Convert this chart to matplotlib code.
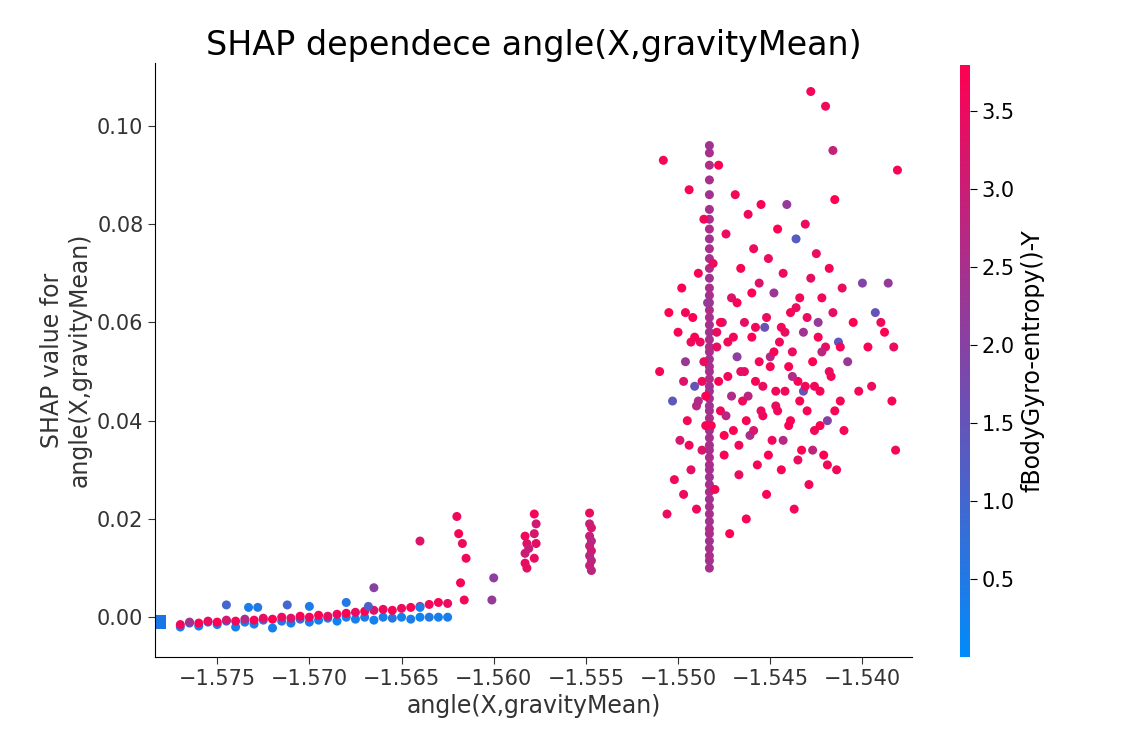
import matplotlib.pyplot as plt
from matplotlib.colors import LinearSegmentedColormap

# low band (-1.577 .. -1.5625), blue and red sub-bands
low_x = [-1.5770, -1.5765, -1.5760, -1.5755, -1.5750, -1.5745, -1.5740, -1.5735, -1.5730, -1.5725,
         -1.5720, -1.5715, -1.5710, -1.5705, -1.5700, -1.5695, -1.5690, -1.5685, -1.5680, -1.5675,
         -1.5670, -1.5665, -1.5660, -1.5655, -1.5650, -1.5645, -1.5640, -1.5635, -1.5630, -1.5625]
low_blue_y = [-0.0020, -0.0012, -0.0018, -0.0010, -0.0015, -0.0008, -0.0020, -0.0010, -0.0014, -0.0006,
              -0.0022, -0.0008, -0.0012, -0.0004, -0.0010, -0.0006, -0.0002, -0.0008, 0.0000, -0.0004,
              0.0000, -0.0006, 0.0000, -0.0002, 0.0000, -0.0004, 0.0000, 0.0000, 0.0000, 0.0000]
low_blue_c = [0.3, 0.4, 0.2, 0.5, 0.3, 0.6, 0.3, 0.4, 0.2, 0.8,
              0.3, 0.5, 0.3, 0.9, 0.4, 0.3, 0.5, 0.2, 0.4, 0.3,
              0.5, 0.3, 0.4, 0.6, 0.3, 0.4, 0.2, 0.5, 0.3, 0.4]
low_red_y = [-0.0015, -0.0010, -0.0012, -0.0008, -0.0010, -0.0006, -0.0008, -0.0004, -0.0006, -0.0002,
             -0.0004, 0.0000, -0.0002, 0.0002, 0.0000, 0.0004, 0.0002, 0.0006, 0.0008, 0.0010,
             0.0012, 0.0014, 0.0016, 0.0014, 0.0018, 0.0020, 0.0022, 0.0026, 0.0030, 0.0028]
low_red_c = [3.6, 2.4, 3.7, 3.5, 3.8, 3.2, 3.6, 2.6, 3.7, 3.4,
             3.8, 3.5, 3.3, 3.7, 3.6, 3.8, 3.4, 3.6, 3.7, 3.5,
             3.8, 3.3, 3.6, 3.7, 3.5, 3.8, 2.8, 3.6, 3.7, 3.5]

# scattered points
mid_x = [-1.5745, -1.5733, -1.5728, -1.5712, -1.5700, -1.5680, -1.5665, -1.5640, -1.5668, -1.5640,
         -1.5620, -1.5619, -1.5617, -1.5615, -1.5618, -1.5616, -1.5600, -1.5601,
         -1.5583, -1.5582, -1.5581, -1.5583, -1.5582, -1.5583, -1.5578, -1.5577, -1.5578, -1.5577, -1.5578,
         -1.5548, -1.5548, -1.5547, -1.5548, -1.5547, -1.5548, -1.5547, -1.5548, -1.5547, -1.5548, -1.5547]
mid_y = [0.0025, 0.0020, 0.0020, 0.0025, 0.0022, 0.0030, 0.0060, 0.0155, 0.0022, 0.0020,
         0.0205, 0.0170, 0.0150, 0.0120, 0.0070, 0.0035, 0.0080, 0.0035,
         0.0165, 0.0150, 0.0140, 0.0110, 0.0100, 0.0130, 0.0210, 0.0190, 0.0170, 0.0150, 0.0120,
         0.0212, 0.0190, 0.0182, 0.0165, 0.0155, 0.0145, 0.0135, 0.0125, 0.0115, 0.0105, 0.0095]
mid_c = [1.0, 0.4, 0.5, 1.0, 0.4, 0.5, 2.0, 3.3, 1.1, 0.4,
         3.6, 3.7, 3.5, 3.6, 3.7, 3.6, 2.1, 2.2,
         3.6, 3.3, 3.0, 3.5, 3.4, 3.0, 3.6, 3.1, 3.2, 3.4, 3.5,
         3.5, 2.9, 3.2, 3.0, 2.7, 2.9, 3.1, 2.8, 2.7, 3.0, 2.8]

# vertical column at -1.5483
col_y = [0.0100, 0.0115, 0.0125, 0.0140, 0.0155, 0.0170, 0.0180, 0.0195, 0.0210, 0.0225,
         0.0240, 0.0255, 0.0270, 0.0285, 0.0300, 0.0310, 0.0325, 0.0340, 0.0350, 0.0365,
         0.0380, 0.0390, 0.0405, 0.0420, 0.0430, 0.0445, 0.0460, 0.0470, 0.0485, 0.0500,
         0.0510, 0.0525, 0.0540, 0.0550, 0.0565, 0.0580, 0.0595, 0.0610, 0.0625, 0.0640,
         0.0655, 0.0670, 0.0690, 0.0710, 0.0730, 0.0750, 0.0770, 0.0790, 0.0810, 0.0830,
         0.0860, 0.0890, 0.0920, 0.0945, 0.0960]
col_c = [2.5, 2.4, 2.6, 2.5, 2.4, 2.5, 2.6, 2.4, 2.5, 2.5,
         2.4, 2.6, 2.5, 2.4, 2.5, 2.5, 2.6, 2.4, 2.5, 2.5,
         2.4, 2.5, 2.6, 2.5, 2.4, 2.5, 2.5, 2.4, 2.6, 2.5,
         2.5, 2.4, 2.5, 2.6, 2.5, 2.4, 2.5, 2.5, 2.6, 2.4,
         2.5, 2.5, 2.4, 2.6, 2.5, 2.5, 2.4, 2.6, 2.5, 2.5,
         2.4, 2.5, 2.6, 2.5, 2.4]

# main cloud (-1.551 .. -1.538)
cloud_x = [-1.5510, -1.5508, -1.5506, -1.5505, -1.5503, -1.5502, -1.5500, -1.5499, -1.5498, -1.5497,
           -1.5496, -1.5495, -1.5494, -1.5493, -1.5492, -1.5491, -1.5490, -1.5489, -1.5488, -1.5487,
           -1.5486, -1.5485, -1.5484, -1.5482, -1.5481, -1.5480, -1.5479, -1.5478, -1.5477, -1.5476,
           -1.5475, -1.5474, -1.5473, -1.5472, -1.5471, -1.5470, -1.5469, -1.5468, -1.5467, -1.5466,
           -1.5465, -1.5464, -1.5463, -1.5462, -1.5461, -1.5460, -1.5459, -1.5458, -1.5457, -1.5456,
           -1.5455, -1.5454, -1.5453, -1.5452, -1.5451, -1.5450, -1.5449, -1.5448, -1.5447, -1.5446,
           -1.5445, -1.5444, -1.5443, -1.5442, -1.5441, -1.5440, -1.5439, -1.5438, -1.5437, -1.5436,
           -1.5435, -1.5434, -1.5433, -1.5432, -1.5431, -1.5430, -1.5429, -1.5428, -1.5427, -1.5426,
           -1.5425, -1.5424, -1.5423, -1.5422, -1.5421, -1.5420, -1.5419, -1.5418, -1.5417, -1.5416,
           -1.5415, -1.5414, -1.5413, -1.5412, -1.5411, -1.5410, -1.5408, -1.5405, -1.5402, -1.5400,
           -1.5397, -1.5395, -1.5393, -1.5390, -1.5388, -1.5386, -1.5384, -1.5383, -1.5382, -1.5381,
           -1.5497, -1.5493, -1.5489, -1.5486, -1.5478, -1.5474, -1.5470, -1.5466, -1.5462, -1.5458,
           -1.5454, -1.5450, -1.5446, -1.5442, -1.5438, -1.5434, -1.5430, -1.5426, -1.5422, -1.5418,
           -1.5496, -1.5491, -1.5487, -1.5477, -1.5473, -1.5468, -1.5464, -1.5460, -1.5456, -1.5452,
           -1.5448, -1.5444, -1.5440, -1.5436, -1.5432, -1.5428, -1.5424, -1.5420, -1.5416, -1.5412,
           -1.5494, -1.5490, -1.5485, -1.5479, -1.5475, -1.5471, -1.5467, -1.5463, -1.5459, -1.5455,
           -1.5451, -1.5447, -1.5443, -1.5439, -1.5435, -1.5431, -1.5427, -1.5423, -1.5419, -1.5415]
cloud_y = [0.0500, 0.0930, 0.0210, 0.0620, 0.0440, 0.0280, 0.0580, 0.0360, 0.0670, 0.0250,
           0.0520, 0.0400, 0.0870, 0.0300, 0.0610, 0.0470, 0.0220, 0.0700, 0.0560, 0.0340,
           0.0810, 0.0450, 0.0640, 0.0390, 0.0720, 0.0260, 0.0550, 0.0920, 0.0420, 0.0600,
           0.0330, 0.0780, 0.0490, 0.0170, 0.0650, 0.0380, 0.0860, 0.0530, 0.0290, 0.0710,
           0.0440, 0.0600, 0.0200, 0.0820, 0.0370, 0.0570, 0.0750, 0.0480, 0.0310, 0.0680,
           0.0840, 0.0410, 0.0590, 0.0250, 0.0730, 0.0510, 0.0360, 0.0660, 0.0430, 0.0790,
           0.0560, 0.0300, 0.0700, 0.0460, 0.0840, 0.0390, 0.0620, 0.0540, 0.0220, 0.0770,
           0.0480, 0.0650, 0.0340, 0.0580, 0.0800, 0.0420, 0.0270, 0.0690, 0.0520, 0.0380,
           0.0740, 0.0600, 0.0460, 0.0650, 0.0330, 0.0550, 0.0400, 0.0710, 0.0490, 0.0620,
           0.0850, 0.0300, 0.0560, 0.0440, 0.0670, 0.0380, 0.0520, 0.0600, 0.0460, 0.0680,
           0.0550, 0.0470, 0.0620, 0.0600, 0.0580, 0.0680, 0.0440, 0.0550, 0.0340, 0.0910,
           0.0480, 0.0560, 0.0440, 0.0520, 0.0480, 0.0410, 0.0570, 0.0500, 0.0450, 0.0590,
           0.0470, 0.0530, 0.0420, 0.0580, 0.0490, 0.0440, 0.0610, 0.0470, 0.0540, 0.0500,
           0.0620, 0.0570, 0.0480, 0.0600, 0.0560, 0.0640, 0.0500, 0.0660, 0.0520, 0.0610,
           0.0540, 0.0590, 0.0510, 0.0630, 0.0460, 0.1070, 0.0570, 0.1040, 0.0950, 0.0550,
           0.0350, 0.0430, 0.0390, 0.0580, 0.0370, 0.0450, 0.0350, 0.0400, 0.0380, 0.0420,
           0.0330, 0.0460, 0.0360, 0.0400, 0.0320, 0.0470, 0.0340, 0.0390, 0.0310, 0.0420]
cloud_c = [3.7, 3.6, 3.5, 3.8, 1.4, 3.6, 3.7, 3.2, 3.8, 3.5,
           2.3, 3.6, 3.7, 3.4, 3.8, 1.5, 3.6, 3.7, 3.5, 3.3,
           3.6, 3.8, 2.2, 3.7, 3.5, 3.6, 3.4, 3.8, 3.6, 2.4,
           3.7, 3.5, 3.6, 3.8, 3.3, 3.7, 3.6, 2.1, 3.5, 3.8,
           3.6, 3.4, 3.7, 3.6, 2.5, 3.8, 3.5, 3.7, 3.6, 3.3,
           3.7, 3.6, 1.6, 3.8, 3.5, 3.7, 3.6, 2.3, 3.4, 3.8,
           3.6, 3.7, 3.5, 3.6, 2.2, 3.8, 3.7, 3.5, 3.6, 1.3,
           3.7, 3.6, 3.8, 2.4, 3.5, 3.7, 3.6, 3.4, 3.8, 3.6,
           3.5, 2.2, 3.7, 3.6, 3.8, 3.5, 2.0, 3.7, 3.6, 3.4,
           3.8, 3.6, 1.4, 3.7, 3.5, 3.6, 2.3, 3.8, 3.6, 1.9,
           3.7, 3.5, 1.5, 3.6, 3.8, 2.2, 3.7, 3.5, 3.6, 3.7,
           3.3, 3.6, 2.6, 3.5, 3.7, 2.7, 3.6, 3.4, 2.8, 3.6,
           3.5, 2.7, 3.6, 3.4, 2.6, 3.7, 3.5, 3.6, 2.8, 3.5,
           3.6, 3.7, 3.5, 3.8, 3.6, 3.7, 3.4, 3.8, 3.6, 3.5,
           3.7, 3.6, 3.8, 3.5, 1.5, 3.6, 3.7, 3.6, 2.9, 3.7,
           3.6, 2.7, 3.7, 3.5, 3.8, 2.6, 3.6, 3.7, 3.2, 3.5,
           3.8, 3.6, 2.7, 3.7, 3.5, 3.6, 2.8, 3.8, 3.6, 3.7]

nan_x = [-1.57815]
nan_y = [-0.0010]

cmap = LinearSegmentedColormap.from_list("shap_red_blue", ["#008bfb", "#ff0052"])

fig = plt.figure(figsize=(11.25, 7.5), dpi=100)
ax = fig.add_axes([0.138, 0.124, 0.673, 0.792])
cax = fig.add_axes([0.853, 0.124, 0.009, 0.790])

xs = low_x + low_x + mid_x + [-1.5483] * len(col_y) + cloud_x
ys = low_blue_y + low_red_y + mid_y + col_y + cloud_y
cs = low_blue_c + low_red_c + mid_c + col_c + cloud_c
sc = ax.scatter(xs, ys, c=cs, cmap=cmap, vmin=0.0, vmax=3.8, s=42, linewidths=0, rasterized=True)
ax.scatter(nan_x, nan_y, marker="s", color="#1a75e8", s=100, linewidths=0)

ax.set_xlim(-1.57836, -1.53729)
ax.set_ylim(-0.0081, 0.1128)
ax.set_xticks([-1.575, -1.570, -1.565, -1.560, -1.555, -1.550, -1.545, -1.540])
ax.set_yticks([0.00, 0.02, 0.04, 0.06, 0.08, 0.10])
for s in ["top", "right"]:
    ax.spines[s].set_visible(False)
ax.tick_params(labelsize=15, colors="#333333", direction="out", length=5)
ax.set_xlabel("angle(X,gravityMean)", fontsize=17, color="#333333")
ax.set_ylabel("SHAP value for\nangle(X,gravityMean)", fontsize=17, color="#333333")
ax.set_title("SHAP dependece angle(X,gravityMean)", fontsize=24)

cb = fig.colorbar(sc, cax=cax)
cb.set_ticks([0.5, 1.0, 1.5, 2.0, 2.5, 3.0, 3.5])
cb.ax.tick_params(labelsize=15, length=5)
cb.outline.set_visible(False)
cb.set_label("fBodyGyro-entropy()-Y", fontsize=17)

fig.savefig("out.png", dpi=100)
